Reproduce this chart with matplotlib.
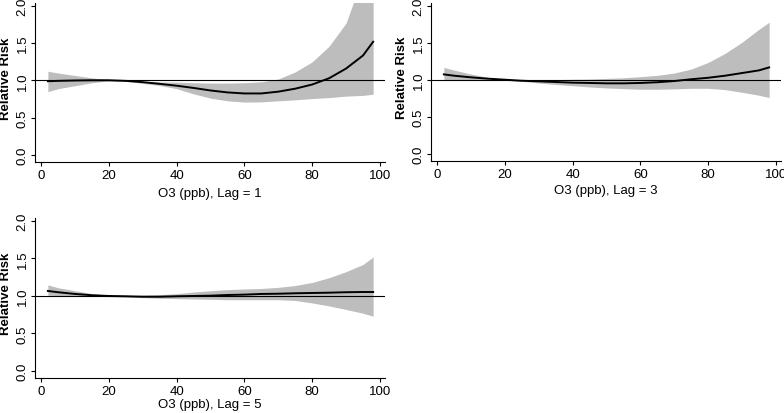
import matplotlib.pyplot as plt

plt.rcParams["font.family"] = ["Liberation Sans", "DejaVu Sans"]

o3 = [2, 5, 10, 15, 20, 25, 30, 35, 40, 45, 50, 55, 60, 65, 70, 75, 80, 85, 90, 95, 98]

# lag 1
rr_lag1 = [0.99, 0.995, 1.0, 1.003, 1.003, 0.995, 0.978, 0.955, 0.93, 0.90, 0.866, 0.84,
           0.826, 0.826, 0.85, 0.89, 0.946, 1.03, 1.16, 1.335, 1.52]
hi_lag1 = [1.125, 1.10, 1.067, 1.035, 1.01, 1.0, 0.985, 0.98, 0.978, 0.97, 0.965, 0.965,
           0.97, 0.982, 1.02, 1.115, 1.25, 1.46, 1.77, 2.4, 2.8]
lo_lag1 = [0.85, 0.89, 0.93, 0.97, 0.995, 0.99, 0.96, 0.933, 0.89, 0.82, 0.763, 0.727,
           0.71, 0.713, 0.727, 0.74, 0.758, 0.77, 0.79, 0.80, 0.815]

# lag 3
rr_lag3 = [1.076, 1.058, 1.036, 1.018, 1.004, 0.99, 0.982, 0.973, 0.964, 0.96, 0.955, 0.955,
           0.96, 0.97, 0.986, 1.01, 1.03, 1.058, 1.094, 1.13, 1.17]
hi_lag3 = [1.17, 1.134, 1.08, 1.036, 1.01, 1.0, 1.0, 1.004, 1.01, 1.013, 1.022, 1.03,
           1.045, 1.063, 1.094, 1.148, 1.237, 1.36, 1.51, 1.685, 1.78]
lo_lag3 = [1.005, 1.0, 1.0, 1.0, 0.995, 0.982, 0.96, 0.94, 0.924, 0.906, 0.893, 0.884,
           0.875, 0.875, 0.88, 0.888, 0.888, 0.87, 0.834, 0.794, 0.763]

# lag 5
rr_lag5 = [1.067, 1.05, 1.027, 1.01, 1.0, 0.996, 0.99, 0.99, 0.996, 1.0, 1.004, 1.013,
           1.018, 1.027, 1.03, 1.036, 1.04, 1.044, 1.05, 1.053, 1.053]
hi_lag5 = [1.147, 1.11, 1.07, 1.03, 1.01, 1.004, 1.01, 1.018, 1.03, 1.053, 1.07, 1.084,
           1.093, 1.10, 1.115, 1.14, 1.18, 1.244, 1.324, 1.42, 1.52]
lo_lag5 = [1.01, 1.005, 1.0, 1.0, 0.99, 0.987, 0.978, 0.97, 0.965, 0.96, 0.956, 0.95,
           0.95, 0.95, 0.95, 0.94, 0.907, 0.867, 0.82, 0.77, 0.73]

# label, curve, upper, lower, axes box in pixels, xlabel offset in pixels
panels = [
    ("O3 (ppb), Lag = 1", rr_lag1, hi_lag1, lo_lag1, [35, 4, 350, 159], 31),
    ("O3 (ppb), Lag = 3", rr_lag3, hi_lag3, lo_lag3, [431, 4, 350, 158], 29),
    ("O3 (ppb), Lag = 5", rr_lag5, hi_lag5, lo_lag5, [35, 219, 350, 160], 26),
]

W, H = 784, 414
fig = plt.figure(figsize=(W / 100, H / 100), dpi=100)

for label, rr, hi, lo, (px, py, pw, ph), xoff in panels:
    ax = fig.add_axes([px / W, 1 - (py + ph) / H, pw / W, ph / H])
    ax.fill_between(o3, lo, hi, color="#bdbdbd", lw=0)
    ax.plot(o3, rr, color="black", lw=1.4)
    ax.axhline(1.0, color="black", lw=0.8)
    ax.set_xlim(-1.8, 101.5)
    ax.set_ylim(-0.094, 2.04)
    ax.set_xticks([0, 20, 40, 60, 80, 100])
    ax.set_yticks([0.0, 0.5, 1.0, 1.5, 2.0])
    ax.set_yticklabels(["0.0", "0.5", "1.0", "1.5", "2.0"])
    ax.spines["top"].set_visible(False)
    ax.spines["right"].set_visible(False)
    ax.spines["left"].set_linewidth(0.8)
    ax.spines["bottom"].set_linewidth(0.8)
    ax.tick_params(axis="both", length=3, width=0.8, labelsize=9.5)
    ax.tick_params(axis="x", pad=2)
    ax.tick_params(axis="y", pad=1.5, labelrotation=90)
    for t in ax.get_yticklabels():
        t.set_va("center")
    ax.set_xlabel(label, fontsize=9.5, va="center")
    ax.xaxis.set_label_coords(0.5, -xoff / ph)
    ax.set_ylabel("Relative Risk", fontsize=9.5, fontweight="bold", va="center")
    ax.yaxis.set_label_coords(-0.082, 0.53)

fig.savefig("out.png", dpi=100)
